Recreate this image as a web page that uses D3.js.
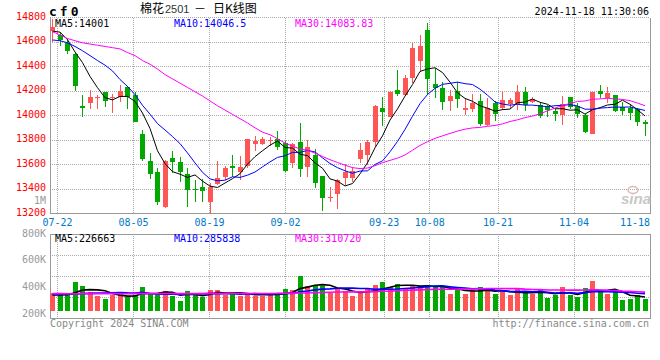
<!DOCTYPE html>
<html><head><meta charset="utf-8">
<script src="https://cdn.jsdelivr.net/npm/d3@7"></script>
<style>body{margin:0;background:#fff}svg{display:block}</style>
</head><body><svg id="c" width="660" height="360"></svg>
<script>
// ---------------- data ----------------
const dates = ["07-19","07-22","07-23","07-24","07-25","07-26","07-29","07-30","07-31",
"08-01","08-02","08-05","08-06","08-07","08-08","08-09","08-12","08-13","08-14","08-15","08-16",
"08-19","08-20","08-21","08-22","08-23","08-26","08-27","08-28","08-29","08-30",
"09-02","09-03","09-04","09-05","09-06","09-09","09-10","09-11","09-12","09-13","09-18","09-19","09-20",
"09-23","09-24","09-25","09-26","09-27","09-30",
"10-08","10-09","10-10","10-11","10-14","10-15","10-16","10-17","10-18",
"10-21","10-22","10-23","10-24","10-25","10-28","10-29","10-30","10-31",
"11-01","11-04","11-05","11-06","11-07","11-08","11-11","11-12","11-13","11-14","11-15","11-18"];
const open = [14690,14655,14595,14505,14080,14100,14148,14190,14140,14153,
14237,14170,13850,13633,13543,13250,13657,13620,13520,13400,
13420,13298,13440,13502,13592,13543,13592,13764,13764,13790,
13807,13775,13611,13788,13580,13679,13508,13325,13361,13489,
13489,13647,13679,13788,14060,13992,14210,14169,14305,14449,
14700,14259,14224,14120,14202,14046,14055,14120,13924,14106,
14060,14095,14087,14196,14109,14087,14068,14038,14006,14150,
14082,14006,13851,14202,14142,14169,14074,14060,14055,13951];
const close = [14720,14615,14525,14245,14060,14155,14155,14120,14152,14202,
14155,13950,13647,13520,13290,13633,13620,13543,13388,13392,
13380,13415,13489,13570,13570,13581,13807,13796,13810,13800,
13747,13545,13769,13562,13740,13453,13325,13335,13470,13543,
13551,13720,13788,14082,14033,14196,14175,14310,14555,14569,
14297,14224,14114,14164,14134,14066,14106,13930,14066,14014,
14128,14128,14196,14087,14136,13997,14046,14011,14093,14074,
14014,13869,14191,14177,14183,14041,14038,14025,13951,13930];
const high = [14790,14680,14630,14510,14170,14210,14168,14195,14175,14250,
14243,14195,13885,13695,13570,13640,13712,13665,13575,13470,
13480,13448,13633,13592,13680,13666,13810,13837,13828,13823,
13875,13795,13780,13938,13802,13725,13510,13420,13481,13603,
13584,13774,13802,14085,14155,14200,14373,14332,14596,14660,
14755,14392,14278,14210,14278,14147,14177,14177,14147,14120,
14202,14147,14251,14237,14150,14110,14087,14066,14161,14150,
14101,14010,14195,14251,14237,14172,14109,14093,14066,13965];
const low = [14600,14565,14500,14200,13985,14050,14052,14070,14025,14110,
14052,13945,13630,13483,13270,13245,13530,13460,13257,13290,
13292,13195,13435,13475,13502,13475,13570,13712,13760,13755,
13720,13540,13570,13502,13502,13412,13217,13298,13236,13434,
13461,13611,13598,13740,13919,13985,14160,14160,14264,14360,
14170,14147,14046,14038,14066,14006,14033,13916,13916,13957,
14046,14055,14046,14038,14100,13984,13992,13957,13924,14052,
13984,13855,13848,14142,14101,14027,14006,13965,13916,13830];
const volume = [291500,275000,275000,484000,412000,319000,253000,198000,264000,275000,
236000,264000,396000,275000,291000,330000,253000,165000,330000,291000,
225000,346000,346000,264000,291000,253000,291000,253000,253000,291000,
275000,357000,346000,577000,412000,429000,412000,291000,357000,335000,
253000,291000,357000,429000,484000,390000,445000,374000,429000,412000,
412000,390000,390000,280000,357000,280000,346000,390000,346000,275000,
308000,264000,357000,308000,280000,346000,220000,264000,390000,264000,
231000,374000,495000,319000,280000,319000,181000,198000,264000,198000];
// moving-average values for days whose window starts before the chart
const ma5Lead = [14690,14682,14620,14520];
const ma10Lead = [14618,14612,14595,14565,14530,14490,14450,14412,14365];
const ma30Lead = [14685,14660,14630,14612,14595,14585,14575,14565,14555,14545,14515,14490,14450,14420,14380,
14335,14300,14265,14230,14195,14160,14120,14080,14045,14010,13975,13940,13900,13865];
const vma5Lead = [264000,266000,268000,300000];
const vma10Lead = [275000,276000,278000,282000,287000,291000,294000,297000,300000];
const vma30Lead = [286000,286000,285000,285000,286000,287000,287000,286000,286000,285000,285000,286000,287000,287000,287000,
288000,288000,287000,287000,287000,287000,288000,288000,288000,288000,288000,289000,289000,289000];
const priceTicks = [13200,13400,13600,13800,14000,14200,14400,14600,14800];
const volTickLabels = ["800K","600K","400K","200K"];
const volTickValues = [800000,600000,400000,200000];
const xTickDates = ["07-22","08-05","08-19","09-02","09-23","10-08","10-21","11-04","11-18"];
const maLegend = ["MA5:14001","MA10:14046.5","MA30:14083.83"];
const volLegend = ["MA5:226663","MA10:285838","MA30:310720"];
const maColors = ["#000000","#0000ff","#ff00ff"];

// ---------------- layout ----------------
const svg = d3.select("#c");
const L = 50, R = 650, pTop = 17.7, pBot = 213.5, vTop = 234.3, vBot = 318.3, vBase = 311;
const mono = "'DejaVu Sans Mono', monospace";
const RED = "#ff5555", GREEN = "#00a800", GRID = "#aaaaaa", AX = "#999999";
const n = dates.length;

const xb = d3.scaleBand().domain(d3.range(n)).range([L, R - 2.5]).paddingInner(1/3).paddingOuter(0);
const xg = d3.scalePoint().domain(d3.range(n)).range([L, R]);
const cx = i => xb(i) + xb.bandwidth() / 2;
const yP = d3.scaleLinear().domain([priceTicks[0], priceTicks[priceTicks.length - 1]]).range([pBot, pTop]);
const yV = d3.scaleLinear().domain([0, 1265000]).range([vBase, vTop]);
const yVL = d3.scaleLinear().domain([200000, 800000]).range([313, 233]);

function movAvg(arr, k, lead) {
  return arr.map((v, i) => i < k - 1 ? lead[i] : d3.mean(arr.slice(i - k + 1, i + 1)));
}
const ma = [movAvg(close, 5, ma5Lead), movAvg(close, 10, ma10Lead), movAvg(close, 30, ma30Lead)];
const vma = [movAvg(volume, 5, vma5Lead), movAvg(volume, 10, vma10Lead), movAvg(volume, 30, vma30Lead)];

const defs = svg.append("defs");
defs.append("clipPath").attr("id", "cp").append("rect").attr("x", L).attr("y", pTop).attr("width", R - L).attr("height", pBot - pTop);
defs.append("clipPath").attr("id", "cv").append("rect").attr("x", L).attr("y", vTop).attr("width", R - L).attr("height", vBot - vTop);

const tickIdx = xTickDates.map(d => dates.indexOf(d));

// ---------------- grid ----------------
const g = svg.append("g").attr("stroke", GRID).attr("stroke-dasharray", "1,1").attr("shape-rendering", "crispEdges");
priceTicks.slice(1).forEach(t => g.append("line").attr("x1", L).attr("x2", R).attr("y1", yP(t)).attr("y2", yP(t)));
tickIdx.forEach(i => {
  const x = xg(i);
  if (x > R - 1) return;
  g.append("line").attr("x1", x).attr("x2", x).attr("y1", pTop).attr("y2", pBot);
  g.append("line").attr("x1", x).attr("x2", x).attr("y1", vTop).attr("y2", vBot);
});
[1, 2, 3].forEach(k => {
  const y = vTop + (vBot - vTop) * k / 4;
  g.append("line").attr("x1", L).attr("x2", R).attr("y1", y).attr("y2", y);
});

// ---------------- borders ----------------
const b = svg.append("g").attr("stroke", AX).attr("fill", "none").attr("shape-rendering", "crispEdges");
b.append("path").attr("d", `M${L},${pTop}V${pBot}H${R}V${pTop}`);
b.append("rect").attr("x", L).attr("y", vTop).attr("width", R - L).attr("height", vBot - vTop);

// ---------------- candles ----------------
const cg = svg.append("g").attr("clip-path", "url(#cp)").attr("shape-rendering", "crispEdges");
const col = i => close[i] >= open[i] ? RED : GREEN;
d3.range(n).forEach(i => {
  cg.append("line").attr("x1", cx(i)).attr("x2", cx(i)).attr("y1", yP(high[i])).attr("y2", yP(low[i]))
    .attr("stroke", col(i)).attr("stroke-width", 1);
  const y1 = yP(Math.max(open[i], close[i])), y2 = yP(Math.min(open[i], close[i]));
  cg.append("rect").attr("x", xb(i)).attr("width", xb.bandwidth()).attr("y", y1).attr("height", Math.max(1, y2 - y1))
    .attr("fill", col(i));
});

// MA lines price
const lp = svg.append("g").attr("clip-path", "url(#cp)");
ma.forEach((s, k) => {
  lp.append("path").attr("fill", "none").attr("stroke", maColors[k]).attr("stroke-width", 1)
    .attr("d", d3.line().x((d, i) => cx(i)).y(d => yP(d))(s));
});

// ---------------- volume ----------------
const vg = svg.append("g").attr("clip-path", "url(#cv)").attr("shape-rendering", "crispEdges");
d3.range(n).forEach(i => {
  vg.append("rect").attr("x", xb(i)).attr("width", xb.bandwidth()).attr("y", yV(volume[i]))
    .attr("height", yV(0) - yV(volume[i])).attr("fill", col(i));
});
const lv = svg.append("g").attr("clip-path", "url(#cv)");
vma.forEach((s, k) => {
  lv.append("path").attr("fill", "none").attr("stroke", maColors[k]).attr("stroke-width", 1.6)
    .attr("d", d3.line().x((d, i) => cx(i)).y(d => yV(d))(s));
});

// ---------------- texts ----------------
const t = svg.append("g").attr("font-family", mono).attr("font-size", 10);
priceTicks.forEach(v => t.append("text").attr("x", 46).attr("y", yP(v) + 2).attr("text-anchor", "end")
  .attr("fill", "#ff0000").text(v));
t.append("text").attr("x", 46).attr("y", 203.5).attr("text-anchor", "end").attr("fill", "#999").text("1M");
volTickLabels.forEach((s, k) => t.append("text").attr("x", 46).attr("y", yVL(volTickValues[k]) + 3.6)
  .attr("text-anchor", "end").attr("fill", "#999").text(s));
tickIdx.forEach((i, k) => {
  const x = xg(i), half = xTickDates[k].length * 3.01;
  const over = x + half > R;
  t.append("text").attr("x", over ? R : x).attr("y", 225.6).attr("text-anchor", over ? "end" : "middle")
    .attr("fill", "#0078c8").text(xTickDates[k]);
});
const legX = [55, 174, 295];
maLegend.forEach((s, k) => t.append("text").attr("x", legX[k]).attr("y", 26.5).attr("fill", maColors[k]).text(s));
volLegend.forEach((s, k) => t.append("text").attr("x", legX[k]).attr("y", 241.6).attr("fill", maColors[k]).text(s));
t.append("text").attr("x", 50).attr("y", 327.3).attr("fill", "#888").text("Copyright 2024 SINA.COM");
t.append("text").attr("x", 649).attr("y", 327.3).attr("text-anchor", "end").attr("fill", "#888").text("http://finance.sina.com.cn");
t.append("text").attr("x", 649).attr("y", 15).attr("text-anchor", "end").attr("fill", "#000").text("2024-11-18 11:30:06");
svg.append("text").attr("x", 49).attr("y", 16).attr("font-family", mono).attr("font-weight", "bold")
  .attr("font-size", 13).attr("letter-spacing", 3).attr("fill", "#000").text("cf0");
const tt = svg.append("text").attr("y", 13).attr("font-size", 12).attr("fill", "#000")
  .attr("font-family", "'Noto Sans CJK SC', sans-serif");
tt.append("tspan").attr("x", 140).text("棉花");
tt.append("tspan").attr("x", 165).attr("font-family", "'Liberation Sans', sans-serif").attr("font-size", 11).attr("fill", "#333").text("2501");
tt.append("tspan").attr("x", 194).text("－");
tt.append("tspan").attr("x", 213).text("日K线图");
// sina watermark
svg.append("ellipse").attr("cx", 633).attr("cy", 190).attr("rx", 5).attr("ry", 3.5).attr("fill", "none").attr("stroke", "#e3b5b5").attr("stroke-width", 1.5);
svg.append("text").attr("x", 651).attr("y", 204).attr("text-anchor", "end").attr("font-family", "'Liberation Sans', sans-serif")
  .attr("font-style", "italic").attr("font-weight", "bold").attr("font-size", 15).attr("fill", "#c8c8c8").text("sina");
</script></body></html>
